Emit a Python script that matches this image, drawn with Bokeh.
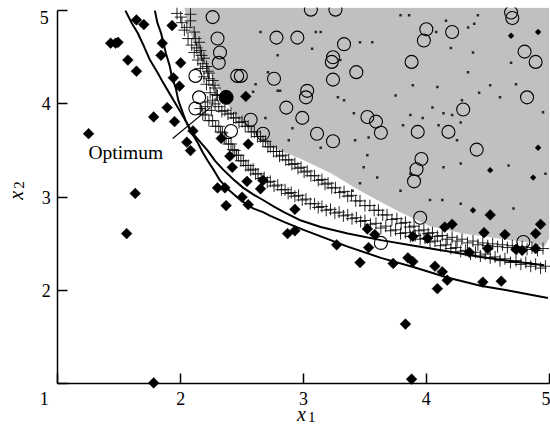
import math
from bokeh.plotting import figure
from bokeh.models import Range1d, FixedTicker, Label
from bokeh.embed import file_html
from bokeh.resources import INLINE

# ---------------- data ----------------
tick_vals = [1, 2, 3, 4, 5]

# shaded (feasible) region boundary
region_x = [2.03, 2.05, 2.08, 2.12, 2.16, 2.24, 2.32, 2.39, 2.47, 2.59, 2.73, 2.98, 3.22,
            3.46, 3.77, 4.03, 4.30, 4.58, 4.85, 4.96, 5.00, 5.00]
region_y = [5.03, 4.89, 4.75, 4.63, 4.50, 4.33, 4.14, 3.98, 3.84, 3.68, 3.54, 3.41, 3.26,
            3.07, 2.85, 2.69, 2.61, 2.56, 2.51, 2.47, 2.56, 5.03]

# small specks inside the shaded region
speck_x = [2.65, 2.79, 2.71, 2.61, 2.59, 2.79, 2.69, 2.91, 3.10, 3.14, 3.46, 3.56, 3.07, 3.30,
           3.79, 3.86, 4.42, 4.39, 4.16, 4.34, 4.08, 4.20, 4.38, 4.69, 4.34, 2.81, 3.28, 3.33,
           3.75, 3.89, 4.09, 4.43, 4.52, 4.73, 4.60, 4.29, 3.41, 3.87, 3.97, 4.05, 4.14, 4.21,
           4.28, 3.81, 4.10, 4.95, 2.88, 3.14, 3.42, 3.53, 4.25, 3.52, 3.49, 3.60, 3.46, 3.87,
           4.14, 4.28, 4.67, 4.97, 3.79, 4.03, 4.13, 4.28, 4.71, 3.40]
speck_y = [4.77, 4.52, 4.34, 4.21, 4.13, 4.14, 3.85, 3.74, 4.77, 4.77, 4.66, 4.66, 4.59, 4.47,
           4.95, 4.95, 4.95, 4.86, 4.89, 4.82, 4.77, 4.60, 4.55, 4.44, 4.34, 4.14, 4.07, 4.04,
           4.09, 4.20, 4.18, 4.12, 4.20, 4.21, 4.07, 4.04, 3.90, 3.88, 3.85, 3.96, 3.90, 3.88,
           3.80, 3.77, 3.77, 3.91, 3.61, 3.53, 3.61, 3.64, 3.61, 3.45, 3.32, 3.21, 3.15, 3.25,
           3.32, 3.36, 3.34, 3.25, 3.07, 2.97, 2.97, 2.93, 2.88, 3.07]
blot_x = [4.69, 4.91, 4.91, 4.52, 4.87, 4.38]
blot_y = [4.73, 4.77, 3.53, 3.29, 3.21, 2.86]

# '+' samples: steep part near the top
plus_top_x = [1.97, 2.01, 2.03, 2.06, 2.09, 2.11, 2.14, 2.16, 2.19, 2.21, 2.24, 2.26,
              2.08, 2.08, 2.11, 2.15, 2.16, 2.19, 2.21, 2.23, 2.26, 2.28, 2.30,
              2.00, 2.05, 2.12, 2.13, 2.17, 2.18, 2.22, 2.23, 2.27, 2.29, 2.22, 2.28, 2.20, 2.25]
plus_top_y = [4.97, 4.87, 4.79, 4.70, 4.63, 4.55, 4.47, 4.38, 4.29, 4.21, 4.12, 4.04,
              4.96, 4.89, 4.77, 4.66, 4.57, 4.49, 4.40, 4.33, 4.25, 4.17, 4.09,
              4.93, 4.82, 4.70, 4.60, 4.52, 4.43, 4.35, 4.27, 4.20, 4.10, 4.02, 4.00, 3.97, 3.93]
# '+' samples: upper band (along the shaded region)
plus_up_x = [2.31, 2.36, 2.41, 2.45, 2.50, 2.55, 2.60, 2.65, 2.69, 2.73, 2.78, 2.83, 2.88, 2.93,
             2.98, 3.03, 3.09, 3.15, 3.20, 3.26, 3.33, 3.39, 3.46, 3.54, 3.61, 3.68, 3.76, 3.83,
             3.90, 3.98, 4.05, 4.13, 4.21, 4.29, 4.38, 4.46, 4.54, 4.62, 4.70, 4.78, 4.86, 4.95,
             2.335, 2.385, 2.43, 2.475, 2.525, 2.575, 2.625, 2.67, 2.71, 2.755, 2.805, 2.855,
             2.905, 2.955, 3.005, 3.06, 3.12, 3.175, 3.23, 3.295, 3.36, 3.425, 3.50, 3.575,
             3.645, 3.72, 3.795, 3.865, 3.94, 4.015, 4.09, 4.17, 4.25, 4.335, 4.42, 4.50, 4.58,
             4.66, 4.74, 4.82, 4.905]
plus_up_y = [3.97, 3.93, 3.90, 3.85, 3.81, 3.76, 3.70, 3.65, 3.60, 3.54, 3.49, 3.45, 3.40, 3.36,
             3.32, 3.28, 3.23, 3.19, 3.15, 3.10, 3.06, 3.02, 2.96, 2.91, 2.86, 2.81, 2.77, 2.73,
             2.69, 2.65, 2.62, 2.59, 2.57, 2.55, 2.53, 2.51, 2.50, 2.49, 2.48, 2.47, 2.46, 2.45,
             3.92, 3.89, 3.85, 3.80, 3.76, 3.70, 3.65, 3.60, 3.54, 3.49, 3.44, 3.40,
             3.35, 3.31, 3.27, 3.23, 3.18, 3.14, 3.10, 3.05, 3.01, 2.96, 2.91, 2.86,
             2.81, 2.76, 2.72, 2.68, 2.64, 2.61, 2.58, 2.55, 2.53, 2.51, 2.49, 2.48, 2.47,
             2.46, 2.45, 2.44, 2.43]
# '+' samples: lower band
plus_lo_x = [2.16, 2.20, 2.26, 2.31, 2.34, 2.37, 2.41, 2.44, 2.47, 2.51, 2.55, 2.59, 2.63, 2.68,
             2.73, 2.79, 2.85, 2.90, 2.96, 3.02, 3.09, 3.15, 3.22, 3.29, 3.36, 3.43, 3.50, 3.59,
             3.67, 3.75, 3.83, 3.91, 3.99, 4.07, 4.16, 4.24, 4.32, 4.40, 4.48, 4.56, 4.64, 4.73,
             4.81, 4.89, 4.97,
             2.18, 2.23, 2.285, 2.325, 2.355, 2.39, 2.425, 2.455, 2.49, 2.53, 2.57, 2.61, 2.655,
             2.705, 2.76, 2.82, 2.875, 2.93, 2.99, 3.055, 3.12, 3.185, 3.255, 3.325, 3.395,
             3.465, 3.545, 3.63, 3.71, 3.79, 3.87, 3.95, 4.03, 4.115, 4.20, 4.28, 4.36, 4.44,
             4.52, 4.60, 4.685, 4.77, 4.85, 4.93]
plus_lo_y = [3.95, 3.88, 3.82, 3.76, 3.69, 3.63, 3.57, 3.50, 3.45, 3.39, 3.34, 3.30, 3.25, 3.21,
             3.17, 3.13, 3.08, 3.05, 3.02, 2.98, 2.93, 2.90, 2.87, 2.84, 2.81, 2.78, 2.75, 2.72,
             2.69, 2.65, 2.62, 2.59, 2.56, 2.53, 2.49, 2.46, 2.43, 2.41, 2.39, 2.36, 2.34, 2.32,
             2.30, 2.28, 2.26,
             3.89, 3.82, 3.76, 3.70, 3.63, 3.57, 3.51, 3.45, 3.39, 3.34, 3.29, 3.25, 3.20,
             3.16, 3.12, 3.08, 3.04, 3.01, 2.97, 2.93, 2.89, 2.86, 2.83, 2.80, 2.77,
             2.74, 2.71, 2.67, 2.64, 2.61, 2.58, 2.55, 2.52, 2.48, 2.45, 2.42, 2.39, 2.37,
             2.35, 2.32, 2.30, 2.28, 2.26, 2.24]

# open circles (feasible points)
circ_x = [2.26, 2.30, 2.32, 2.31, 2.46, 2.49, 2.12, 2.15, 2.12, 2.41, 2.57, 2.67, 2.76, 2.78,
          2.95, 3.06, 3.26, 3.33, 3.24, 3.23, 3.43, 3.24, 3.03, 3.02, 2.86, 2.99, 3.11, 3.24,
          3.52, 3.59, 3.63, 4.00, 3.98, 4.21, 3.88, 4.69, 4.70, 4.80, 4.89, 4.82, 4.30, 3.93,
          4.18, 4.41, 3.96, 3.92, 3.90, 3.95, 3.63, 4.79]
circ_y = [4.93, 4.70, 4.55, 4.44, 4.30, 4.30, 4.30, 4.07, 3.95, 3.71, 3.83, 3.68, 4.27, 4.71,
          4.71, 5.01, 5.01, 4.64, 4.50, 4.45, 4.34, 4.26, 4.14, 4.07, 3.96, 3.85, 3.68, 3.60,
          3.86, 3.81, 3.69, 4.80, 4.68, 4.77, 4.45, 4.98, 4.92, 4.56, 4.45, 4.07, 3.94, 3.70,
          3.70, 3.51, 3.41, 3.30, 3.17, 2.78, 2.51, 2.52]

# filled diamonds (infeasible points)
dia_x = [1.25, 1.43, 1.47, 1.49, 1.57, 1.64, 1.64, 1.70, 1.63, 1.56, 1.78, 1.93, 1.85, 1.84,
         2.00, 1.94, 1.99, 1.89, 1.78, 1.95, 2.10, 2.05, 2.08, 2.53, 2.33, 2.55, 2.40, 2.42,
         2.54, 2.67, 2.65, 2.30, 2.36, 2.50, 2.55, 2.37, 2.93, 2.87, 2.93, 3.27, 3.46, 3.52,
         3.58, 3.53, 3.73, 3.85, 3.89, 3.89, 4.01, 4.07, 4.13, 4.09, 4.17, 4.15, 4.21, 4.35,
         4.47, 4.50, 4.46, 4.61, 4.64, 4.52, 4.73, 4.78, 4.89, 4.89, 4.93, 3.83, 3.88]
dia_y = [3.68, 4.65, 4.65, 4.66, 4.47, 4.35, 4.90, 4.85, 3.04, 2.61, 1.01, 4.84, 4.65, 4.52,
         4.44, 4.28, 4.19, 3.96, 3.86, 3.81, 3.71, 3.59, 3.50, 4.08, 3.63, 3.57, 3.44, 3.32,
         3.17, 3.18, 3.09, 3.10, 3.10, 3.00, 2.92, 2.91, 2.87, 2.61, 2.64, 2.49, 2.30, 2.66,
         2.60, 2.46, 2.29, 2.35, 2.31, 2.58, 2.56, 2.26, 2.20, 2.02, 2.11, 2.68, 2.71, 2.41,
         2.62, 2.45, 2.09, 2.10, 2.60, 2.81, 2.44, 2.43, 2.61, 2.45, 2.71, 1.64, 1.05]

# two fitted boundary curves
fitA_x = [1.55, 1.60, 1.65, 1.70, 1.75, 1.81, 1.86, 1.91, 1.96, 2.00, 2.04, 2.10, 2.16, 2.22,
          2.28, 2.35, 2.43, 2.51, 2.59, 2.67, 2.76, 2.84, 2.98, 3.14, 3.36, 3.63, 3.90, 4.17,
          4.44, 4.71, 4.96]
fitA_y = [5.00, 4.87, 4.76, 4.62, 4.47, 4.34, 4.22, 4.11, 4.00, 3.91, 3.82, 3.68, 3.59, 3.50,
          3.39, 3.29, 3.19, 3.10, 3.03, 2.97, 2.90, 2.84, 2.75, 2.68, 2.61, 2.54, 2.48, 2.42,
          2.36, 2.31, 2.27]
fitB_x = [1.79, 1.81, 1.84, 1.86, 1.88, 1.91, 1.93, 1.96, 1.98, 2.01, 2.04, 2.08, 2.14, 2.18,
          2.22, 2.27, 2.32, 2.39, 2.46, 2.53, 2.59, 2.67, 2.73, 2.85, 2.98, 3.14, 3.36, 3.63,
          3.90, 4.17, 4.44, 4.71, 4.99]
fitB_y = [5.00, 4.87, 4.76, 4.65, 4.54, 4.41, 4.28, 4.17, 4.04, 3.93, 3.82, 3.71, 3.58, 3.48,
          3.39, 3.29, 3.18, 3.08, 3.00, 2.93, 2.88, 2.84, 2.80, 2.73, 2.66, 2.58, 2.47, 2.35,
          2.25, 2.14, 2.05, 1.99, 1.92]

# optimum
opt_x = [2.37]
opt_y = [4.07]
opt_label = "Optimum"

# ---------------- figure ----------------
SERIF = "Liberation Serif"

# The frame covers the whole canvas; the axes are placed at x=1 / y=1 with fixed_location,
# so the tick labels and titles drawn outside the data area are not clipped.
p = figure(width=550, height=431, x_range=Range1d(0.533, 5.011), y_range=Range1d(0.489, 5.033),
           output_backend="svg", toolbar_location=None,
           min_border_left=0, min_border_right=0, min_border_top=7, min_border_bottom=0)
p.xgrid.visible = False
p.ygrid.visible = False
p.outline_line_color = None
p.background_fill_color = "white"
p.border_fill_color = "white"

for ax in (p.xaxis[0], p.yaxis[0]):
    ax.fixed_location = 1
    ax.ticker = FixedTicker(ticks=tick_vals)
    ax.bounds = (1, 5)
    ax.axis_line_width = 1.5
    ax.axis_line_color = "black"
    ax.major_tick_in = 10
    ax.major_tick_out = 0
    ax.major_tick_line_width = 1.5
    ax.major_tick_line_color = "black"
    ax.minor_tick_line_color = None
    ax.major_label_text_font = SERIF
    ax.major_label_text_font_size = "18px"
    ax.major_label_text_color = "black"
p.xaxis[0].major_label_overrides = {1: ""}
p.yaxis[0].major_label_overrides = {1: "", 5: ""}
p.xaxis[0].major_label_standoff = 8
p.yaxis[0].major_label_standoff = 7

# shaded region
p.patch(region_x, region_y, fill_color="#c0c0c0", line_color=None)
# specks
p.scatter(speck_x, speck_y, marker="square", size=2.5, fill_color="black",
          line_color=None, fill_alpha=0.8)
p.scatter(blot_x, blot_y, marker="square", size=4.5, angle=math.pi / 4,
          fill_color="black", line_color=None)
# plus samples
for xs, ys in ((plus_top_x, plus_top_y), (plus_up_x, plus_up_y), (plus_lo_x, plus_lo_y)):
    p.scatter(xs, ys, marker="cross", size=12, line_color="black",
              line_width=1, line_alpha=0.85)
# open circles
p.scatter(circ_x, circ_y, marker="circle", size=13, fill_color=None,
          line_color="black", line_width=1.1)
# curves
p.line(fitA_x, fitA_y, line_color="black", line_width=2)
p.line(fitB_x, fitB_y, line_color="black", line_width=2)
# diamonds
p.scatter(dia_x, dia_y, marker="square", size=7.6, angle=math.pi / 4,
          fill_color="black", line_color="black", line_width=0.5)
# optimum
p.scatter(opt_x, opt_y, marker="circle", size=14, fill_color="black", line_color="black")

# annotation pointer and text
ANNOT_LINE_X = [1.935, 2.24]
ANNOT_LINE_Y = [3.63, 3.96]
p.line(ANNOT_LINE_X, ANNOT_LINE_Y, line_color="black", line_width=1.2)
p.add_layout(Label(x=1.249, y=3.479, text=opt_label, text_font=SERIF,
                   text_font_size="19.5px", text_align="left",
                   text_baseline="alphabetic", text_color="black"))

# corner tick labels
p.add_layout(Label(x=1, y=1, x_offset=-13.5, y_offset=-15, text="1", text_font=SERIF,
                   text_font_size="18px", text_align="center",
                   text_baseline="alphabetic", text_color="black"))
p.add_layout(Label(x=1, y=5, x_offset=-9, y_offset=-7, text="5", text_font=SERIF,
                   text_font_size="18px", text_align="right",
                   text_baseline="alphabetic", text_color="black"))

# axis titles (italic x with upright subscript)
p.add_layout(Label(x=3, y=1, x_offset=-2, y_offset=-30, text="x", text_font=SERIF,
                   text_font_size="20px", text_font_style="italic", text_align="center",
                   text_baseline="alphabetic", text_color="black"))
p.add_layout(Label(x=3, y=1, x_offset=4.5, y_offset=-33, text="1", text_font=SERIF,
                   text_font_size="15px", text_align="left",
                   text_baseline="alphabetic", text_color="black"))
p.add_layout(Label(x=1, y=3, x_offset=-41.5, y_offset=2, angle=math.pi / 2, text="x",
                   text_font=SERIF, text_font_size="20px", text_font_style="italic",
                   text_align="center", text_baseline="alphabetic", text_color="black"))
p.add_layout(Label(x=1, y=3, x_offset=-38.5, y_offset=8.5, angle=math.pi / 2, text="2",
                   text_font=SERIF, text_font_size="15px", text_align="left",
                   text_baseline="alphabetic", text_color="black"))

open("out.html", "w").write(file_html(p, INLINE))
